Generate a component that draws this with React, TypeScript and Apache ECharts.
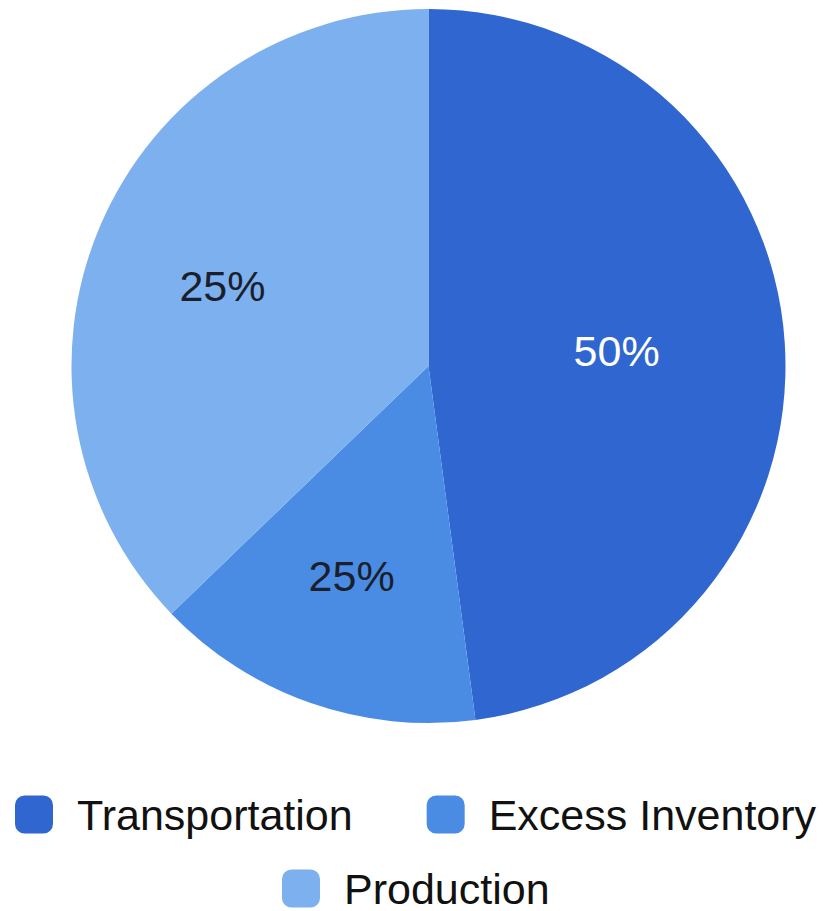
import React, { useEffect, useRef } from "react";
import * as echarts from "echarts";

const categories = ["Transportation", "Excess Inventory", "Production"];
const values = [47.9, 14.9, 37.2];
const labelTexts = ["50%", "25%", "25%"];
const colors = ["#2F66D0", "#4A8CE4", "#7CB0EE"];
const labelColors = ["#FFFFFF", "#1B1F2B", "#1B1F2B"];
const labelOffsets = [
  [7, -3],
  [-17, 39],
  [-39, -9],
];

export default function App() {
  const ref = useRef<HTMLDivElement>(null);
  useEffect(() => {
    if (!ref.current) return;
    const chart = echarts.init(ref.current, undefined, { renderer: "svg" });
    const font = "'Liberation Sans', Arial, sans-serif";
    const legendCommon = {
      orient: "horizontal",
      icon: "roundRect",
      itemWidth: 38,
      itemHeight: 38,
      itemGap: 74,
      padding: 0,
      width: 823,
      textStyle: {
        fontSize: 43,
        lineHeight: 38,
        color: "#111111",
        fontFamily: font,
        padding: [0, 0, 0, 19],
      },
      selectedMode: false,
    };
    chart.setOption({
      animation: false,
      backgroundColor: "#FFFFFF",
      textStyle: { fontFamily: font },
      legend: [
        { ...legendCommon, left: 15, top: 793, data: [categories[0], categories[1]] },
        { ...legendCommon, left: 282, top: 867, data: [categories[2]] },
      ],
      series: [
        {
          type: "pie",
          center: [428.5, 366],
          radius: 357,
          startAngle: 90,
          clockwise: true,
          avoidLabelOverlap: false,
          labelLine: { show: false },
          itemStyle: { borderWidth: 0 },
          emphasis: { disabled: true },
          data: categories.map((name, i) => ({
            name,
            value: values[i],
            itemStyle: { color: colors[i] },
            label: {
              show: true,
              position: "inside",
              formatter: labelTexts[i],
              color: labelColors[i],
              fontSize: 43,
              fontFamily: font,
              offset: labelOffsets[i],
            },
          })),
        },
      ],
    });
    return () => chart.dispose();
  }, []);
  return (
    <div
      ref={ref}
      style={{ position: "absolute", left: 0, top: 0, width: 823, height: 911 }}
    />
  );
}
